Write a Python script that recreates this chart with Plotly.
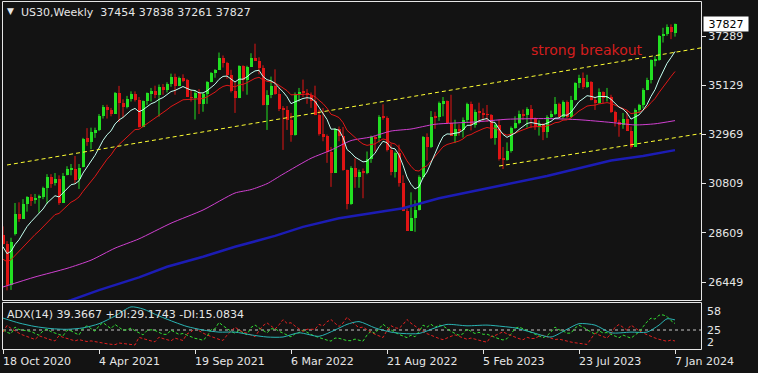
import plotly.graph_objects as go
import pandas as pd

# ---------------- data ----------------
FIRST_WEEK = "2020-10-18"

opens = [
    28550, 28150, 26350, 28600, 29450, 29250, 29900, 30200, 30100, 30200,
    30200, 30600, 31100, 30850, 31000, 29950, 31200, 31450, 31450, 31000,
    31550, 32800, 32650, 33050, 33150, 33800, 34200, 34050, 33880, 34780,
    34380, 34200, 34530, 34750, 34480, 33300, 34430, 34790, 34870, 34690,
    35060, 34930, 35210, 35510, 35120, 35450, 35370, 34610, 34580, 34800,
    34330, 34750, 35290, 35680, 35820, 36330, 36100, 35600, 34900, 34580,
    35970, 35370, 35950, 36340, 36230, 35910, 34270, 34730, 35090, 34740,
    34080, 34060, 33610, 32940, 34750, 34860, 34820, 34720, 34450, 33810,
    32980, 32900, 32200, 31260, 33210, 32900, 31390, 29890, 31500, 31100,
    31340, 31290, 31900, 32850, 32800, 33760, 33710, 32280, 31320, 32150,
    30820, 29590, 28730, 29300, 29630, 31080, 32860, 32400, 33750, 33740,
    34350, 34430, 33480, 32920, 33200, 33150, 33630, 34300, 33380, 33980,
    33930, 33870, 33830, 32820, 33390, 31910, 31860, 32240, 33270, 33490,
    33890, 33810, 34100, 33670, 33300, 33430, 33090, 33760, 33880, 34300,
    33730, 34410, 33730, 34510, 35230, 35460, 35070, 35280, 34500, 34350,
    34840, 34580, 34620, 33960, 33510, 33410, 33670, 33130, 32420, 34060,
    34280, 34950, 35390, 36250, 36260, 37300, 37390, 37690, 37454]

highs = [
    28900, 28250, 28400, 29930, 29960, 30100, 30230, 30320, 30330, 30300,
    30650, 31200, 31200, 31250, 31150, 31250, 31550, 31650, 32000, 31650,
    32800, 33230, 33250, 33250, 33850, 34250, 34260, 34120, 34820, 35090,
    34500, 34650, 34850, 34850, 34600, 34450, 34800, 35000, 35100, 35150,
    35170, 35250, 35630, 35630, 35500, 35600, 35400, 34900, 34900, 34950,
    34800, 35300, 35700, 35830, 36560, 36430, 36150, 35800, 35250, 36000,
    36000, 35980, 36530, 36950, 36350, 36000, 34900, 35500, 35820, 35000,
    34200, 34200, 33900, 34800, 35000, 35370, 34950, 34800, 35100, 34050,
    34120, 32950, 32400, 33230, 33300, 33280, 31400, 31550, 31900, 31400,
    31450, 32200, 32900, 32900, 33800, 34280, 33750, 32550, 32200, 32500,
    31150, 29700, 30400, 30050, 31150, 32880, 33000, 33980, 33950, 34400,
    34600, 34450, 34700, 33600, 33400, 33700, 34350, 34400, 34050, 34350,
    34100, 34250, 33850, 33450, 33600, 32400, 32600, 33300, 33750, 34000,
    34050, 34150, 34250, 33700, 33570, 33450, 33800, 34000, 34600, 34350,
    34450, 34450, 34650, 35250, 35580, 35680, 35580, 35300, 34600, 34980,
    34850, 35000, 34700, 34000, 33600, 33900, 34000, 33300, 34100, 34300,
    34990, 35450, 36260, 36400, 37330, 37650, 37800, 37800, 37838]

lows = [
    28100, 26080, 26100, 28500, 29100, 29250, 29550, 29800, 29900, 29500,
    30100, 29900, 30600, 30700, 29850, 29950, 31150, 31150, 30800, 30550,
    31500, 32450, 32300, 32800, 33100, 33650, 33650, 33750, 33850, 33500,
    33700, 34100, 34400, 34400, 33250, 33270, 34250, 34400, 34550, 33740,
    34700, 34800, 35050, 34700, 35080, 35250, 34600, 34400, 33610, 33850,
    33950, 34300, 35250, 35450, 35800, 35900, 35400, 34800, 33900, 34550,
    34850, 34700, 35950, 36200, 35600, 34230, 33150, 34550, 34700, 33980,
    32270, 33150, 32630, 32900, 34400, 34600, 34300, 34120, 33800, 32900,
    32650, 31700, 30640, 31250, 32650, 31350, 29650, 29850, 30600, 30600,
    30140, 31200, 31700, 32200, 32600, 33600, 32200, 31150, 31050, 30650,
    29570, 28710, 28700, 28660, 29600, 31000, 31800, 32350, 33200, 33550,
    33750, 33420, 32900, 32570, 32900, 32810, 33450, 33130, 33250, 33450,
    33550, 33500, 32750, 32500, 31800, 31430, 31800, 32150, 33200, 33400,
    33600, 33250, 33230, 33150, 32900, 32700, 32800, 33650, 33800, 33700,
    33650, 33650, 33700, 34450, 35000, 34950, 35000, 34450, 34030, 34300,
    34320, 34400, 33900, 33300, 32850, 33200, 33100, 32330, 32400, 33900,
    34100, 34900, 35200, 35950, 36200, 37000, 37300, 37150, 37261]

closes = [
    28150, 26350, 28250, 29450, 29250, 29900, 30200, 30050, 30150, 30200,
    30600, 31100, 30800, 31000, 29950, 31150, 31450, 31500, 30950, 31500,
    32780, 32630, 33070, 33150, 33800, 34200, 34050, 33880, 34780, 34380,
    34200, 34530, 34750, 34480, 33290, 34430, 34790, 34870, 34690, 35060,
    34930, 35210, 35510, 35120, 35450, 35370, 34610, 34580, 34800, 34330,
    34750, 35290, 35680, 35820, 36330, 36100, 35600, 34900, 34580, 35970,
    35370, 35950, 36340, 36230, 35910, 34270, 34730, 35090, 34740, 34080,
    34060, 33610, 32940, 34750, 34860, 34820, 34720, 34450, 33810, 32980,
    32900, 32200, 31260, 33210, 32900, 31390, 29890, 31500, 31100, 31340,
    31290, 31900, 32850, 32800, 33760, 33710, 32280, 31320, 32150, 30820,
    29590, 28730, 29300, 29630, 31080, 32860, 32400, 33750, 33740, 34350,
    34430, 33480, 32920, 33200, 33150, 33630, 34300, 33380, 33980, 33930,
    33870, 33830, 32820, 33390, 31910, 31860, 32240, 33270, 33490, 33890,
    33810, 34100, 33670, 33300, 33430, 33090, 33760, 33880, 34300, 33730,
    34410, 33730, 34510, 35230, 35460, 35070, 35280, 34500, 34350, 34840,
    34580, 34620, 33960, 33510, 33410, 33670, 33130, 32420, 34060, 34280,
    34950, 35390, 36250, 36260, 37300, 37390, 37690, 37470, 37827]

tick_weeks = [0, 24, 48, 72, 96, 120, 144, 168]
tick_labels = ["18 Oct 2020", "4 Apr 2021", "19 Sep 2021", "6 Mar 2022",
               "21 Aug 2022", "5 Feb 2023", "23 Jul 2023", "7 Jan 2024"]
price_ticks = [26449, 28609, 30809, 32969, 35129, 37289]

# slow moving averages (week index, value)
ma100_weeks = [0, 8, 16, 22, 28, 34, 42, 50, 58, 62, 66, 70, 77, 82, 87, 92,
               97, 102, 108, 118, 126, 136, 144, 152, 158, 163, 168]
ma100_values = [26230, 26670, 27050, 27410, 27940, 28350, 29040, 29620, 30370,
                30520, 30780, 31200, 31900, 32260, 32680, 32840, 33100, 33190,
                33400, 33500, 33620, 33650, 33600, 33480, 33370, 33420, 33560]
ma200_weeks = [0, 17, 24, 34, 41, 50, 58, 68, 75, 84, 92, 100, 109, 118, 126,
               136, 143, 152, 160, 168]
ma200_values = [24700, 25650, 26090, 26650, 27120, 27560, 28000, 28480, 28880,
                29260, 29480, 29700, 30140, 30480, 30760, 31120, 31420, 31800,
                32000, 32260]

# ADX(14) main line (week index, value)
adx_weeks = [0, 4, 8, 12, 16, 20, 24, 28, 32, 35, 39, 43, 46, 50, 54, 58, 62,
             66, 70, 74, 79, 83, 86, 89, 93, 97, 100, 104, 108, 111, 116, 121,
             125, 128, 132, 137, 141, 144, 148, 152, 157, 161, 164, 166, 168]
adx_values = [42, 35, 30, 27, 26, 28, 34, 45, 58, 55, 45, 36, 30, 25, 22, 22, 18,
              15, 15, 21, 16, 25, 33, 37, 28, 22, 20, 20, 28, 33, 31, 32,
              30, 28, 22, 15, 26, 34, 32, 21, 22, 22, 32, 41, 39.4]

upper_channel_dates = ["2020-10-25", "2024-02-25"]
upper_channel_prices = [31605, 36780]
lower_channel_dates = ["2023-03-05", "2024-02-25"]
lower_channel_prices = [31560, 33005]

EMA_FAST, EMA_SLOW = 10, 20
EMA_FAST_SEED, EMA_SLOW_SEED = 28000, 27450
DI_PERIOD = 14
PDI_SEED, MDI_SEED = 25.0, 22.0
adx_levels = [58, 25, 2]
LEVEL = 25

header_text = "US30,Weekly\u00a0\u00a037454 37838 37261 37827"
adx_text = "ADX(14) 39.3667 +DI:29.1743 -DI:15.0834"
last_price = 37827
note_text = "strong breakout"

# ---------------- derived ----------------
N = len(closes)
weeks = pd.date_range(FIRST_WEEK, periods=N, freq="7D")
WEEK = pd.Timedelta(days=7)


def week_date(i):
    return pd.Timestamp(FIRST_WEEK) + i * WEEK


def ema(values, period, seed):
    a = 2.0 / (period + 1)
    out = [seed]
    for v in values[1:]:
        out.append(out[-1] + a * (v - out[-1]))
    return out


ema_fast = ema(closes, EMA_FAST, EMA_FAST_SEED)
ema_slow = ema(closes, EMA_SLOW, EMA_SLOW_SEED)

# +DI / -DI in MetaTrader style (EMA-smoothed directional ratios)
a = 2.0 / (DI_PERIOD + 1)
pdi, mdi = [PDI_SEED], [MDI_SEED]
for i in range(1, N):
    up = highs[i] - highs[i - 1]
    dn = lows[i - 1] - lows[i]
    pdm = max(up, 0)
    mdm = max(dn, 0)
    if pdm > mdm:
        mdm = 0
    elif mdm > pdm:
        pdm = 0
    else:
        pdm = mdm = 0
    tr = max(highs[i] - lows[i], abs(highs[i] - closes[i - 1]), abs(lows[i] - closes[i - 1]))
    ps = 100.0 * pdm / tr if tr else 0
    ms = 100.0 * mdm / tr if tr else 0
    pdi.append(pdi[-1] + a * (ps - pdi[-1]))
    mdi.append(mdi[-1] + a * (ms - mdi[-1]))

# ---------------- styling / layout ----------------
W, H = 758, 373
BG = "#131313"
FG = "#e6e6e6"
FONT = "DejaVu Sans"
BULL = "#22e022"
BEAR = "#e01515"


def px_x(x):
    return x / W


def px_y(y):
    return (H - y) / H


x_lo = pd.Timestamp(FIRST_WEEK)
x_hi = pd.Timestamp(FIRST_WEEK) + pd.Timedelta(days=174.5 * 7)

fig = go.Figure()

# wicks
for bull, col in ((True, BULL), (False, BEAR)):
    wx, wy = [], []
    for i in range(N):
        if (closes[i] >= opens[i]) == bull:
            wx += [weeks[i], weeks[i], None]
            wy += [lows[i], highs[i], None]
    fig.add_trace(go.Scatter(x=wx, y=wy, mode="lines", line=dict(color=col, width=1),
                             xaxis="x", yaxis="y", hoverinfo="skip"))

# bodies
for bull, col in ((True, BULL), (False, BEAR)):
    bx, bb, bh = [], [], []
    for i in range(N):
        if (closes[i] >= opens[i]) == bull:
            bx.append(weeks[i])
            bb.append(min(opens[i], closes[i]))
            bh.append(max(abs(closes[i] - opens[i]), 40))
    fig.add_trace(go.Bar(x=bx, y=bh, base=bb, width=0.75 * 7 * 86400000,
                         marker=dict(color=col, line=dict(width=0)),
                         xaxis="x", yaxis="y", hoverinfo="skip"))

# moving averages
fig.add_trace(go.Scatter(x=[week_date(w) for w in ma200_weeks], y=ma200_values, mode="lines",
                         line=dict(color="#1c1cb4", width=2.5), xaxis="x", yaxis="y"))
fig.add_trace(go.Scatter(x=[week_date(w) for w in ma100_weeks], y=ma100_values, mode="lines",
                         line=dict(color="#d040d0", width=1, shape="spline", smoothing=0.6),
                         xaxis="x", yaxis="y"))
fig.add_trace(go.Scatter(x=weeks, y=ema_slow, mode="lines", line=dict(color="#e01818", width=1),
                         xaxis="x", yaxis="y"))
fig.add_trace(go.Scatter(x=weeks, y=ema_fast, mode="lines", line=dict(color="#c4fff0", width=1),
                         xaxis="x", yaxis="y"))

# channel lines
for dts, prs in ((upper_channel_dates, upper_channel_prices), (lower_channel_dates, lower_channel_prices)):
    fig.add_trace(go.Scatter(x=dts, y=prs, mode="lines",
                             line=dict(color="#ffff33", width=1, dash="4px,3px"),
                             xaxis="x", yaxis="y"))

# ADX panel
fig.add_trace(go.Scatter(x=[x_lo, x_hi], y=[LEVEL, LEVEL], mode="lines",
                         line=dict(color="#c8c8c8", width=1, dash="3px,3px"), xaxis="x2", yaxis="y2"))
fig.add_trace(go.Scatter(x=weeks, y=pdi, mode="lines", line=dict(color="#32dc32", width=1, dash="3px,2px"),
                         xaxis="x2", yaxis="y2"))
fig.add_trace(go.Scatter(x=weeks, y=mdi, mode="lines", line=dict(color="#e02020", width=1, dash="3px,2px"),
                         xaxis="x2", yaxis="y2"))
fig.add_trace(go.Scatter(x=[week_date(w) for w in adx_weeks], y=adx_values, mode="lines",
                         line=dict(color="#2ab4b4", width=1, shape="spline", smoothing=0.7),
                         xaxis="x2", yaxis="y2"))

x_dom = [px_x(3), px_x(701)]
main_dom = [px_y(300), px_y(1.5)]
adx_dom = [px_y(349), px_y(302)]

p_top = 37289 + (36 - 1.5) * 44.065
p_bot = 37289 - (300 - 36) * 44.065
a_top = (347.5 - 302) / 0.7
a_bot = (347.5 - 349) / 0.7

tickfont = dict(family=FONT, size=11, color=FG)
fig.update_layout(
    width=W, height=H, margin=dict(l=0, r=0, t=0, b=0),
    paper_bgcolor=BG, plot_bgcolor=BG, showlegend=False, bargap=0,
    hovermode=False,
    xaxis=dict(domain=x_dom, range=[x_lo, x_hi], anchor="y", showgrid=False, zeroline=False,
               showticklabels=False, ticks=""),
    xaxis2=dict(domain=x_dom, range=[x_lo, x_hi], anchor="y2", matches="x", showgrid=False,
                zeroline=False, showticklabels=False, ticks="outside", ticklen=4, tickcolor=FG,
                tickvals=[weeks[i] for i in tick_weeks]),
    yaxis=dict(domain=main_dom, range=[p_bot, p_top], anchor="x", side="right", showgrid=False,
               zeroline=False, tickvals=price_ticks, ticktext=[str(v) for v in price_ticks],
               ticks="outside", ticklen=4, tickcolor=FG, tickfont=tickfont),
    yaxis2=dict(domain=adx_dom, range=[a_bot, a_top], anchor="x2", side="right", showgrid=False,
                zeroline=False, showticklabels=False, ticks=""),
)

# panel frames
fig.add_shape(type="rect", xref="paper", yref="paper", x0=px_x(2.5), x1=px_x(701.5),
              y0=px_y(300.5), y1=px_y(1.5), line=dict(color=FG, width=1))
fig.add_shape(type="rect", xref="paper", yref="paper", x0=px_x(2.5), x1=px_x(701.5),
              y0=px_y(349.5), y1=px_y(302.5), line=dict(color=FG, width=1))

ann = []
# header
ann.append(dict(text="\u25BC", x=px_x(5), y=px_y(11), xref="paper", yref="paper", xanchor="left",
                yanchor="middle", showarrow=False, font=dict(family=FONT, size=9, color=FG)))
ann.append(dict(text=header_text, x=px_x(19), y=px_y(12), xref="paper", yref="paper", xanchor="left",
                yanchor="middle", showarrow=False, font=dict(family=FONT, size=11, color=FG)))
# ADX header
ann.append(dict(text=adx_text, x=px_x(5), y=px_y(314), xref="paper", yref="paper", xanchor="left",
                yanchor="middle", showarrow=False, font=dict(family=FONT, size=11, color=FG)))
# breakout note
ann.append(dict(text=note_text, x=px_x(529), y=px_y(50), xref="paper", yref="paper", xanchor="left",
                yanchor="middle", showarrow=False, font=dict(family=FONT, size=14, color="#d41e1e")))
# last price box
ann.append(dict(text=str(last_price), x=px_x(702.5), y=last_price, xref="paper", yref="y",
                xanchor="left", yanchor="middle", showarrow=False, bgcolor="#ffffff",
                width=42, height=12, borderpad=1, align="center",
                font=dict(family=FONT, size=11, color="#000000")))
# ADX scale labels
for lv, sh in zip(adx_levels, [-5, 0, 4]):
    ann.append(dict(text=str(lv), x=px_x(705), y=lv, xref="paper", yref="y2", xanchor="left",
                    yanchor="middle", yshift=sh, showarrow=False, font=dict(family=FONT, size=11, color=FG)))
# date labels
for i, lab in zip(tick_weeks, tick_labels):
    ann.append(dict(text=lab, x=weeks[i], y=px_y(361), xref="x2", yref="paper", xanchor="left",
                    yanchor="middle", xshift=-2, showarrow=False, font=dict(family=FONT, size=11, color=FG)))
fig.update_layout(annotations=ann)

fig.write_html("out.html")
